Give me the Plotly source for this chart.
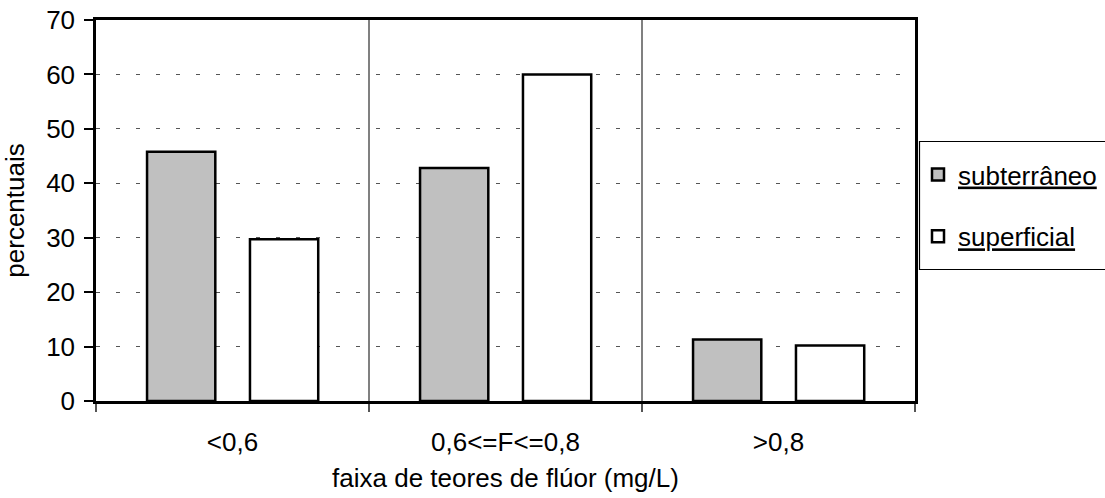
import plotly.graph_objects as go

categories = ["<0,6", "0,6<=F<=0,8", ">0,8"]
subterraneo = [45.8, 42.8, 11.3]
superficial = [29.7, 60.0, 10.2]
y_ticks = [0, 10, 20, 30, 40, 50, 60, 70]

FONT = "Liberation Sans, Arial, sans-serif"
FS = 26
L, R, T, B = 96, 190, 20, 97
W, H = 1105, 498
PW = W - L - R
PH = H - T - B

def px_x(px):
    return (px - L) / PW

def px_y(py):
    return (H - B - py) / PH

fig = go.Figure()
fig.add_trace(go.Bar(
    x=categories, y=subterraneo, name='<span style="text-decoration:underline">subterrâneo</span>',
    marker=dict(color="#c0c0c0", line=dict(color="black", width=2.5)),
    width=0.25, offset=-0.313, legendgroup="a",
))
fig.add_trace(go.Bar(
    x=categories, y=superficial, name='<span style="text-decoration:underline">superficial</span>',
    marker=dict(color="white", line=dict(color="black", width=2.5)),
    width=0.25, offset=0.064, legendgroup="b",
))

# legend frame
fig.add_shape(type="rect", xref="paper", yref="paper",
              x0=px_x(919.5), x1=px_x(1115), y0=px_y(269.5), y1=px_y(141.5),
              line=dict(color="black", width=1.2), fillcolor="rgba(0,0,0,0)", layer="above")

fig.update_layout(
    width=W, height=H,
    margin=dict(l=L, r=R, t=T, b=B, autoexpand=False),
    paper_bgcolor="white", plot_bgcolor="white",
    barmode="overlay",
    font=dict(family=FONT, size=FS, color="black"),
    showlegend=True,
    legend=dict(
        x=px_x(918), xanchor="left", y=px_y(151), yanchor="top",
        bgcolor="rgba(0,0,0,0)", borderwidth=0,
        font=dict(family=FONT, size=FS, color="black"),
        tracegroupgap=25, itemwidth=30,
    ),
    xaxis=dict(
        type="category", range=[-0.5, 2.5], automargin=False,
        tickson="boundaries", ticks="outside", ticklen=8, tickcolor="#555",
        tickwidth=1.5,
        showgrid=True, gridcolor="#808080", gridwidth=1.5,
        showline=True, linecolor="black", linewidth=2.5, mirror=True,
        ticklabelstandoff=16,
        title=dict(text="faixa de teores de flúor (mg/L)", standoff=13,
                   font=dict(family=FONT, size=FS)),
    ),
    yaxis=dict(
        range=[0, 70], tickvals=y_ticks, ticks="outside", ticklen=9,
        tickcolor="black", tickwidth=1.5, automargin=False,
        showgrid=True, gridcolor="#555", gridwidth=1.2, griddash="4px,16px",
        showline=True, linecolor="black", linewidth=2.5, mirror=True,
        zeroline=False, ticklabelstandoff=4,
        title=dict(text="percentuais", standoff=15,
                   font=dict(family=FONT, size=FS)),
    ),
)

fig.write_html("out.html")
